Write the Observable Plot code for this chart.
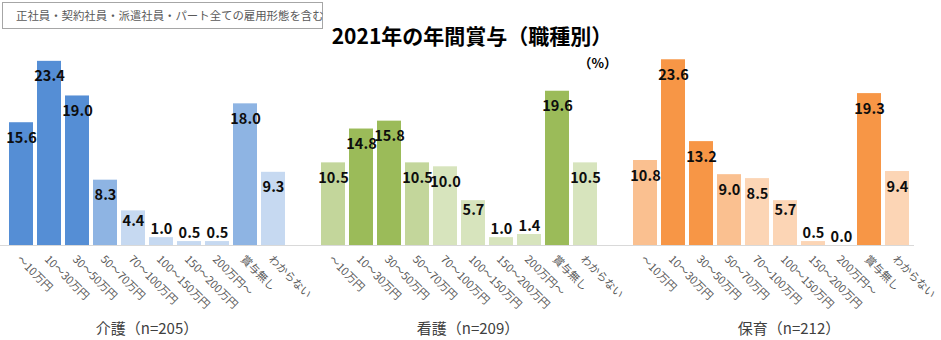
<!DOCTYPE html>
<html>
<head>
<meta charset="utf-8">
<script src="https://cdn.jsdelivr.net/npm/d3@7"></script>
<script src="https://cdn.jsdelivr.net/npm/@observablehq/plot@0.6"></script>
<style>
  html, body { margin: 0; padding: 0; background: #fff; }
  #root { position: relative; width: 941px; height: 340px; overflow: hidden; font-family: "Noto Sans CJK JP", "Noto Sans", sans-serif; }
  .note { position: absolute; left: 2px; top: 2px; width: 321px; height: 27px; box-sizing: border-box; border: 1px solid #a6a6a6; color: #595959; font-size: 11.4px; line-height: 25px; padding-left: 13px; white-space: nowrap; }
  .title { position: absolute; left: 272px; width: 400px; top: 21px; text-align: center; font-size: 21px; font-weight: bold; color: #000; line-height: 28px; white-space: nowrap; }
  .unit { position: absolute; left: 555px; width: 62px; top: 54px; text-align: right; font-size: 13px; font-weight: bold; color: #000; line-height: 18px; }
  .ptitle { position: absolute; width: 200px; top: 318px; text-align: center; font-size: 15px; color: #404040; line-height: 20px; white-space: nowrap; }
  .panel { position: absolute; top: 40px; }
  .panel svg { overflow: visible; }
</style>
</head>
<body>
<div id="root">
  <div class="note">正社員・契約社員・派遣社員・パート全ての雇用形態を含む</div>
  <div class="title">2021年の年間賞与（職種別）</div>
  <div class="unit">（%）</div>
</div>
<script>
// ---- data ----
const categories = ["～10万円", "10～30万円", "30～50万円", "50～70万円", "70～100万円", "100～150万円", "150～200万円", "200万円～", "賞与無し", "わからない"];
const panelTitles = ["介護（n=205）", "看護（n=209）", "保育（n=212）"];
const kaigo = [15.6, 23.4, 19.0, 8.3, 4.4, 1.0, 0.5, 0.5, 18.0, 9.3];
const kango = [10.5, 14.8, 15.8, 10.5, 10.0, 5.7, 1.0, 1.4, 19.6, 10.5];
const hoiku = [10.8, 23.6, 13.2, 9.0, 8.5, 5.7, 0.5, 0.0, 19.3, 9.4];
// shade group of each bar (0 = light, 1 = medium, 2 = dark)
const kaigoShade = [2, 2, 2, 1, 0, 0, 0, 0, 1, 0];
const kangoShade = [1, 2, 2, 1, 0, 0, 0, 0, 2, 0];
const hoikuShade = [1, 2, 2, 1, 0, 0, 0, 0, 2, 0];
const bluePalette = ["#c6d9f1", "#8eb4e3", "#558ed5"];
const greenPalette = ["#d7e4bd", "#c3d69b", "#9bbb59"];
const orangePalette = ["#fcd5b5", "#fac090", "#f79646"];

const panels = [
  {values: kaigo, shade: kaigoShade, palette: bluePalette, title: panelTitles[0], left: 0, width: 312, marginRight: 0, titleCenter: 147},
  {values: kango, shade: kangoShade, palette: greenPalette, title: panelTitles[1], left: 312, width: 312, marginRight: 0, titleCenter: 468},
  {values: hoiku, shade: hoikuShade, palette: orangePalette, title: panelTitles[2], left: 624, width: 317, marginRight: 27, titleCenter: 789}
];

const root = document.getElementById("root");
const fmt = d => d.v.toFixed(1);
const labelStyle = {fill: "#0d0d0d", fontSize: 14.5, fontWeight: "bold"};

for (const p of panels) {
  const data = categories.map((c, i) => ({cat: c, v: p.values[i], shade: p.shade[i]}));
  const chart = Plot.plot({
    width: p.width,
    height: 300,
    marginTop: 0,
    marginLeft: 0,
    marginRight: p.marginRight,
    marginBottom: 95,
    style: {fontFamily: "'Noto Sans CJK JP', 'Noto Sans', sans-serif", fontSize: "12px", color: "#595959", background: "transparent", overflow: "visible"},
    x: {domain: categories, range: [3, 290], padding: 0.152, axis: null},
    y: {domain: [0, 25], range: [205, 8.25], axis: null},
    color: {domain: [0, 1, 2], range: p.palette},
    marks: [
      Plot.barY(data, {x: "cat", y: "v", fill: "shade"}),
      Plot.ruleY([0], {stroke: "#d9d9d9", strokeWidth: 1}),
      Plot.axisX({tickSize: 0, tickRotate: 45, tickPadding: 12, dx: -3, label: null, fill: "#595959", fontSize: 11}),
      Plot.text(data.filter(d => d.v >= 7), {x: "cat", y: "v", text: fmt, dy: 15.5, ...labelStyle}),
      Plot.text(data.filter(d => d.v >= 3 && d.v < 7), {x: "cat", y: "v", text: fmt, dy: 10, ...labelStyle}),
      Plot.text(data.filter(d => d.v < 3), {x: "cat", y: "v", text: fmt, dy: -8, ...labelStyle})
    ]
  });
  const wrap = document.createElement("div");
  wrap.className = "panel";
  wrap.style.left = p.left + "px";
  wrap.appendChild(chart);
  root.appendChild(wrap);

  const t = document.createElement("div");
  t.className = "ptitle";
  t.style.left = (p.titleCenter - 100) + "px";
  t.textContent = p.title;
  root.appendChild(t);
}
</script>
</body>
</html>
